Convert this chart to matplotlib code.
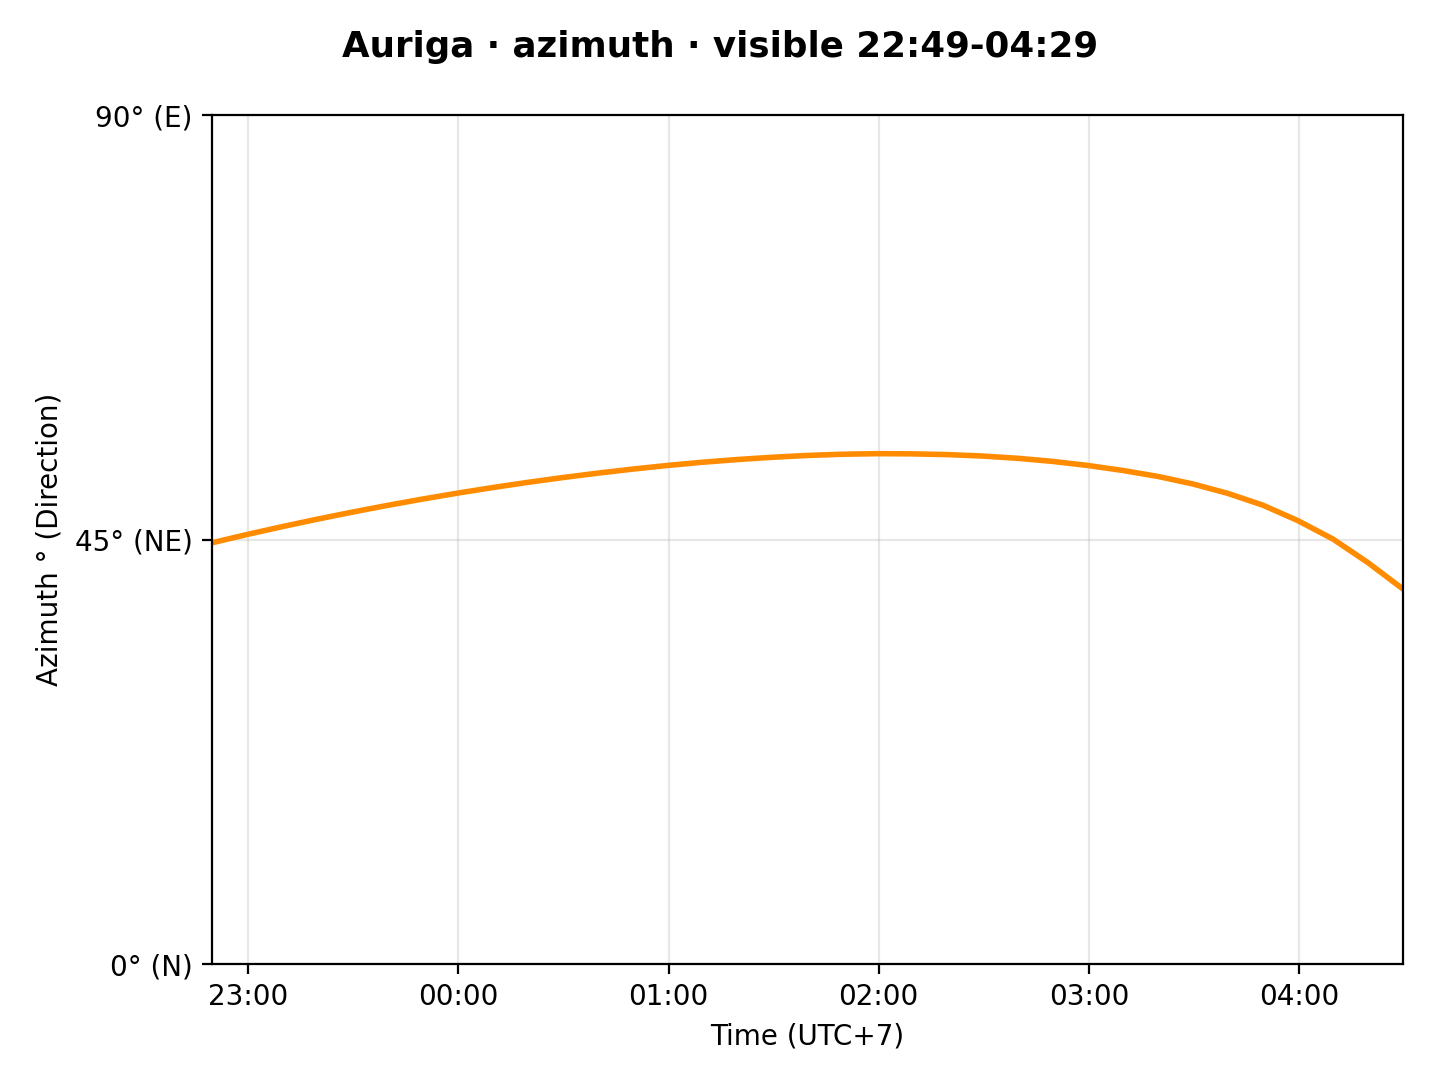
import matplotlib
matplotlib.use("Agg")
import matplotlib.pyplot as plt
import matplotlib.dates as mdates
import pandas as pd

# samples every 10 minutes over the visible window (UTC+7)
times = ["2024-01-01 22:49:40", "2024-01-01 22:59:40", "2024-01-01 23:09:40", "2024-01-01 23:19:40",
         "2024-01-01 23:29:40", "2024-01-01 23:39:40", "2024-01-01 23:49:40", "2024-01-01 23:59:40",
         "2024-01-02 00:09:40", "2024-01-02 00:19:40", "2024-01-02 00:29:40", "2024-01-02 00:39:40",
         "2024-01-02 00:49:40", "2024-01-02 00:59:40", "2024-01-02 01:09:40", "2024-01-02 01:19:40",
         "2024-01-02 01:29:40", "2024-01-02 01:39:40", "2024-01-02 01:49:40", "2024-01-02 01:59:40",
         "2024-01-02 02:09:40", "2024-01-02 02:19:40", "2024-01-02 02:29:40", "2024-01-02 02:39:40",
         "2024-01-02 02:49:40", "2024-01-02 02:59:40", "2024-01-02 03:09:40", "2024-01-02 03:19:40",
         "2024-01-02 03:29:40", "2024-01-02 03:39:40", "2024-01-02 03:49:40", "2024-01-02 03:59:40",
         "2024-01-02 04:09:40", "2024-01-02 04:19:40", "2024-01-02 04:29:40"]
azimuth = [44.65, 45.53, 46.36, 47.15, 47.90, 48.61, 49.28, 49.91,
           50.50, 51.05, 51.56, 52.03, 52.46, 52.85, 53.19, 53.48,
           53.72, 53.91, 54.04, 54.10, 54.08, 54.00, 53.85, 53.61,
           53.28, 52.85, 52.32, 51.69, 50.89, 49.89, 48.64, 47.00,
           45.05, 42.55, 39.75]
ytick_vals = [0, 45, 90]
ytick_labels = ["0° (N)", "45° (NE)", "90° (E)"]

t = pd.to_datetime(times)

fig = plt.figure(figsize=(7.2, 5.4), dpi=200)
ax = fig.add_subplot(111)
fig.subplots_adjust(left=0.1472, right=0.9743, top=0.8935, bottom=0.1074)

ax.plot(t, azimuth, color="darkorange", linewidth=2)

ax.set_xlim(t[0], t[-1])
ax.set_ylim(0, 90)
ax.set_yticks(ytick_vals)
ax.set_yticklabels(ytick_labels)
ax.xaxis.set_major_locator(mdates.HourLocator())
ax.xaxis.set_major_formatter(mdates.DateFormatter("%H:%M"))
ax.grid(True, alpha=0.3)

ax.set_xlabel("Time (UTC+7)")
ax.set_ylabel("Azimuth ° (Direction)")
fig.suptitle("Auriga · azimuth · visible 22:49-04:29", fontsize=12.85, fontweight="bold", y=0.972)

plt.savefig("out.png", dpi=200)
